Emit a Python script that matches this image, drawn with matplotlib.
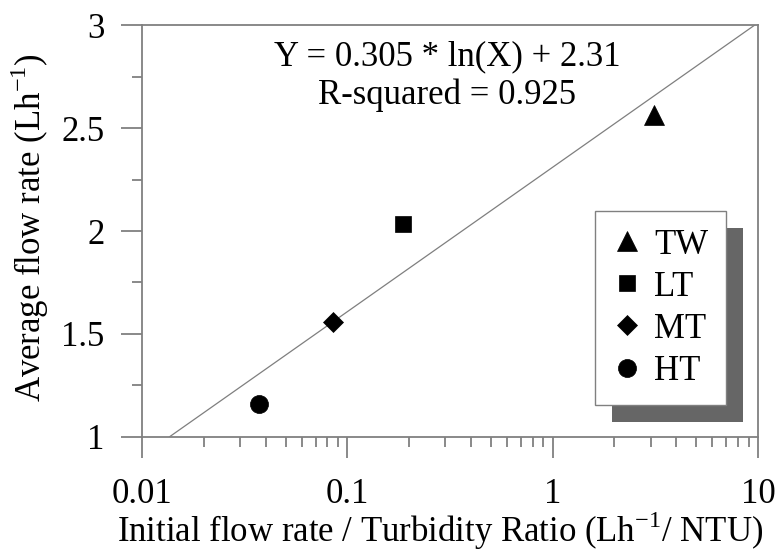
import matplotlib
matplotlib.use("Agg")
import matplotlib.pyplot as plt
import numpy as np
from matplotlib.patches import Rectangle

# data
labels = ["TW", "LT", "MT", "HT"]
ratio = [3.11, 0.186, 0.0848, 0.037]
flow = [2.565, 2.034, 1.558, 1.16]
markers = ["^", "s", "D", "o"]
msizes = [14, 12, 10.5, 13]

# fitted curve  Y = a*ln(X) + b
fit_a = 0.305
fit_b = 2.31
fit_text = ["Y = 0.305 * ln(X) + 2.31", "R-squared = 0.925"]

plt.rcParams["font.family"] = ["Liberation Serif", "DejaVu Serif"]
plt.rcParams["mathtext.fontset"] = "custom"
plt.rcParams["mathtext.rm"] = "Liberation Serif"

FS = 25

def main():
    fig = plt.figure(figsize=(7.8, 5.52), dpi=100)
    ax = fig.add_axes([142/780, 1 - 436.7/552, 616/780, 411.4/552])

    xs = np.logspace(np.log10(np.exp((1 - fit_b) / fit_a)), 1, 200)
    ax.plot(xs, fit_a * np.log(xs) + fit_b, color="#7f7f7f", lw=0.9, zorder=2)

    for lab, x, y, m, ms in zip(labels, ratio, flow, markers, msizes):
        ax.plot([x], [y], ls="none", marker=m, ms=ms, color="black",
                mec="black", mew=0.5, label=lab, zorder=3)

    ax.set_xscale("log")
    ax.set_xlim(0.01, 10)
    ax.set_ylim(1, 3)
    ax.set_xticks([0.01, 0.1, 1, 10])
    ax.set_xticklabels(["0.01", "0.1", "1", "10"])
    ax.set_yticks([1, 1.5, 2, 2.5, 3])
    ax.set_yticklabels(["1", "1.5", "2", "2.5", "3"])
    ax.set_yticks(np.arange(1.25, 3, 0.5), minor=True)

    gray = "#808080"
    for s in ax.spines.values():
        s.set_color(gray)
        s.set_linewidth(1.3)
    ax.tick_params(which="major", direction="out", length=15, width=1.3,
                   color=gray, labelsize=FS)
    ax.tick_params(which="minor", direction="out", length=7.5, width=1.3,
                   color=gray)
    ax.tick_params(axis="x", which="major", pad=15)
    ax.tick_params(axis="y", which="major", pad=12)

    ax.set_xlabel(r"Initial flow rate / Turbidity Ratio (Lh$^{\mathrm{-1}}$/ NTU)",
                  fontsize=FS, va="center")
    ax.xaxis.set_label_coords((440 - 142) / 616, (436.7 - 531) / 411.4)
    ax.set_ylabel(r"Average flow rate (Lh$^{\mathrm{-1}}$)", fontsize=FS,
                  va="center")
    ax.yaxis.set_label_coords((30 - 142) / 616, (436.7 - 228) / 411.4)

    ax.text(0.495, 0.923, fit_text[0], transform=ax.transAxes, fontsize=FS,
            ha="center", va="center")
    ax.text(0.495, 0.83, fit_text[1], transform=ax.transAxes, fontsize=FS,
            ha="center", va="center")

    leg = ax.legend(loc="lower right", bbox_to_anchor=(0.948, 0.077),
                    borderaxespad=0, fontsize=FS, frameon=True, fancybox=False,
                    framealpha=1.0, labelspacing=0.26, borderpad=0.5,
                    handlelength=0.8, handletextpad=0.4, markerscale=1.0)
    leg.get_frame().set_edgecolor(gray)
    leg.get_frame().set_linewidth(1.0)
    leg.set_zorder(6)

    # drop shadow behind the legend box
    fig.canvas.draw()
    bb = leg.get_window_extent().transformed(fig.transFigure.inverted())
    dx, dy = 17 / 780, 17 / 552
    ax.add_patch(Rectangle((bb.x0 + dx, bb.y0 - dy), bb.width, bb.height,
                           transform=fig.transFigure, facecolor="#666666",
                           edgecolor="none", zorder=5, clip_on=False))

    fig.savefig("out.png", dpi=100)

if __name__ == "__main__":
    main()
